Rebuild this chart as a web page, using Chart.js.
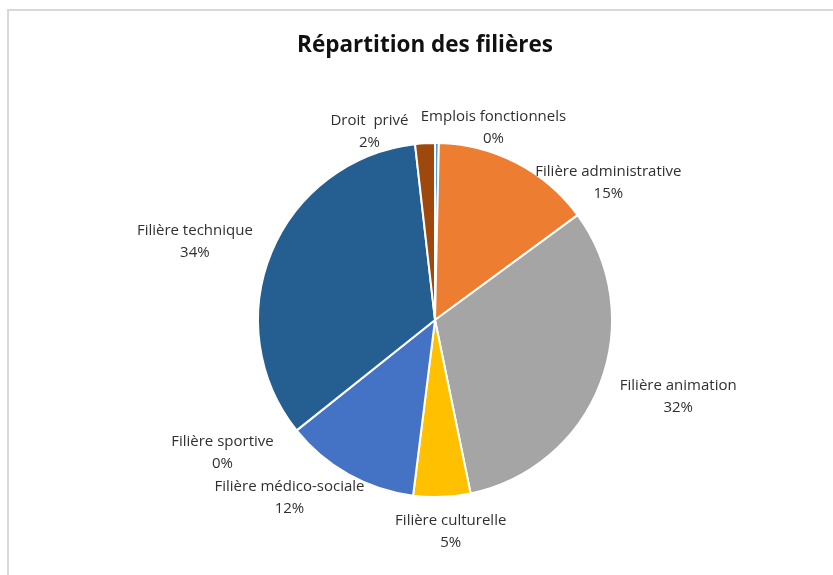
<!DOCTYPE html>
<html>
<head>
<meta charset="utf-8">
<script src="https://cdn.jsdelivr.net/npm/chart.js@4"></script>
<style>
  html, body { margin: 0; padding: 0; background: #ffffff; overflow: hidden; }
  #wrap { position: relative; width: 833px; height: 575px; overflow: hidden; }
  #frame { position: absolute; left: 7px; top: 9px; width: 900px; height: 700px;
           border-left: 2px solid #d9d9d9; border-top: 2px solid #d9d9d9; }
  #title { position: absolute; left: 0; top: 29px; width: 850px; text-align: center;
           font-family: 'Open Sans', Lato, sans-serif; font-weight: bold; font-size: 22.5px;
           line-height: 30px; color: #111111; }
  #c { position: absolute; left: 0; top: 0; }
</style>
</head>
<body>
<div id="wrap">
  <div id="frame"></div>
  <canvas id="c" width="833" height="575"></canvas>
  <div id="title"></div>
</div>
<script>
// ---- Data ----
const categories = [
  "Emplois fonctionnels",
  "Filière administrative",
  "Filière animation",
  "Filière culturelle",
  "Filière médico-sociale",
  "Filière sportive",
  "Filière technique",
  "Droit  privé"
];
const shares = [0.35, 14.55, 31.85, 5.2, 12.3, 0, 33.9, 1.8];
const chartTitle = "Répartition des filières";

// ---- Styles ----
const sliceColors = ["#5B9BD5", "#ED7D31", "#A5A5A5", "#FFC000", "#4472C4", "#70AD47", "#255E91", "#9E480E"];
// label nudges relative to geometric anchor (dx, dy)
const labelNudges = [[56, 30], [71, 60], [36, -3], [7, -10], [-37, -16], [-39, -6], [-35, 7], [-53, 33]];

const labelFont = "15px 'Open Sans', Lato, sans-serif";

document.getElementById('title').textContent = chartTitle;

const labelPlugin = {
  id: 'outsideLabels',
  afterDatasetsDraw(chart) {
    const ctx = chart.ctx;
    const meta = chart.getDatasetMeta(0);
    const data = chart.data.datasets[0].data;
    const total = data.reduce((a, b) => a + b, 0);
    ctx.save();
    ctx.font = labelFont;
    ctx.fillStyle = "#303030";
    ctx.textAlign = "center";
    ctx.textBaseline = "middle";
    meta.data.forEach((arc, i) => {
      const p = arc.getProps(['x', 'y', 'startAngle', 'endAngle', 'outerRadius'], true);
      const mid = (p.startAngle + p.endAngle) / 2;
      const d = p.outerRadius + 45;
      const nx = labelNudges[i] ? labelNudges[i][0] : 0;
      const ny = labelNudges[i] ? labelNudges[i][1] : 0;
      const x = p.x + Math.cos(mid) * d + nx;
      const y = p.y + Math.sin(mid) * d + ny;
      const pct = Math.round(data[i] / total * 100) + "%";
      ctx.fillText(chart.data.labels[i], x, y - 11);
      ctx.fillText(pct, x, y + 11);
    });
    ctx.restore();
  }
};

new Chart(document.getElementById('c'), {
  type: 'pie',
  data: {
    labels: categories,
    datasets: [{
      data: shares,
      backgroundColor: sliceColors,
      borderColor: "#ffffff",
      borderWidth: 2
    }]
  },
  options: {
    responsive: false,
    animation: false,
    layout: { padding: { left: 137, right: 100, top: 142, bottom: 77 } },
    plugins: {
      legend: { display: false },
      tooltip: { enabled: false },
      title: { display: false }
    }
  },
  plugins: [labelPlugin]
});
</script>
</body>
</html>
